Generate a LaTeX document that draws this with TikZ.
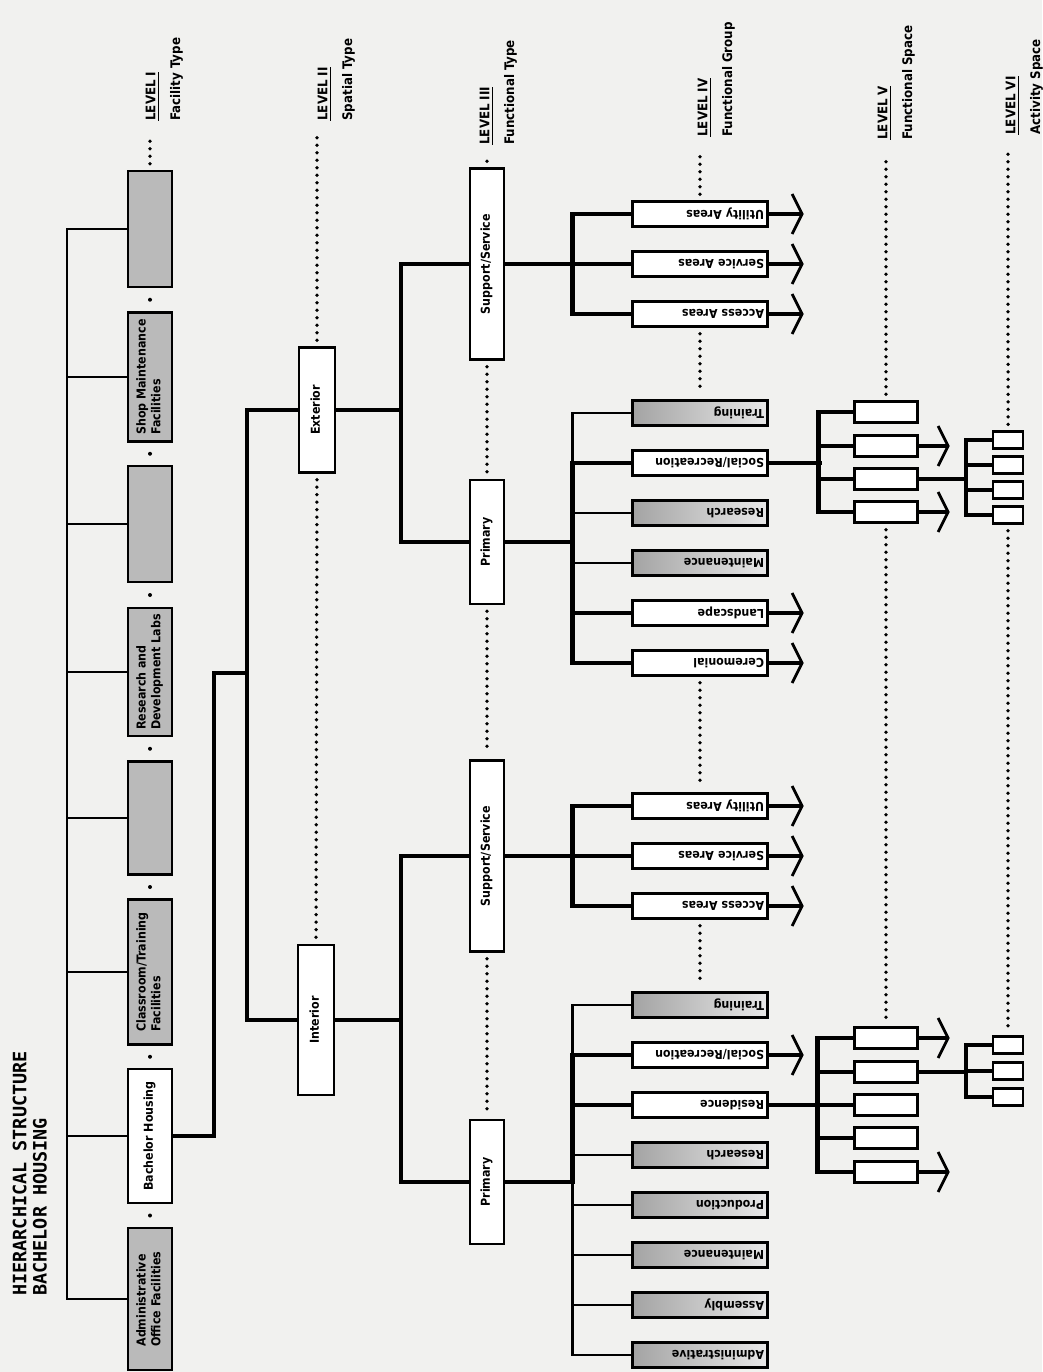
\documentclass[tikz,border=0pt]{standalone}
\usepackage{fontspec}
\usepackage{tikz}
\usetikzlibrary{arrows.meta,calc}
\newfontfamily\labfont{DejaVu Sans Condensed}
\newfontfamily\ttlfont{DejaVu Sans Mono}
\definecolor{paperGray}{RGB}{241,241,239}
\definecolor{stipple} {RGB}{186,186,186}

\newcommand{\lvlab}[2]{\rotatebox{90}{\begin{tabular}{@{}l@{}}\underline{LEVEL #1}\\[5pt]#2\end{tabular}}}
\newcommand{\up}[1]{\rotatebox{90}{\begin{tabular}{@{}l@{}}#1\end{tabular}}}
\newcommand{\flip}[1]{\rotatebox{180}{#1}}

\tikzset{
  thinln/.style={line width=1.3pt},
  thickln/.style={line width=2.6pt},
  dotln/.style={line width=0.75mm, line cap=round, dash pattern=on 0pt off 1.5mm,
                shorten <=1.2mm, shorten >=1.2mm},
  dotlab/.style={dotln, shorten >=3mm},
  goon/.style={thickln, -{Straight Barb[length=2mm,width=8mm,line width=1.6pt]}},
  blk/.style={draw, line width=1.3pt, inner sep=1pt, fill=white,
              font=\labfont\bfseries\fontsize{7}{8.4}\selectfont},
  stip/.style={fill=stipple},
  gstip/.style={left color=black!36, right color=black!9},
  facbox/.style={blk, minimum width=8.8mm},
  spabox/.style={blk, minimum width=7.2mm},
  funbox/.style={blk, minimum width=6.8mm},
  grpbox/.style={blk, minimum height=5mm, text width=25.6mm, inner xsep=0.7mm,
                 inner ysep=0.4mm, align=right},
  fspbox/.style={blk, minimum width=12.6mm, minimum height=4.2mm, inner sep=0pt},
  actbox/.style={blk, minimum width=6mm, minimum height=3.4mm, inner sep=0pt},
  lvl/.style={anchor=south west, inner sep=0pt,
              font=\labfont\bfseries\fontsize{7.5}{9}\selectfont}
}

\begin{document}
\begin{tikzpicture}[x=0.2mm, y=-0.2mm]
  \fill[paperGray] (0,0) rectangle (1042,1372);
  \useasboundingbox (0,0) rectangle (1042,1372);

  % ── TITLE ─────────────────────────────────────────────
  \node[anchor=south west, inner sep=0pt,
        font=\ttlfont\bfseries\fontsize{10.5}{11.5}\selectfont]
        (ttl) at (12,1296) {\up{HIERARCHICAL STRUCTURE\\BACHELOR HOUSING}};

  % ── LEVEL HEADINGS ────────────────────────────────────
  \node[lvl] (lv1) at (144,121) {\lvlab{I}{Facility Type}};
  \node[lvl] (lv2) at (316,121) {\lvlab{II}{Spatial Type}};
  \node[lvl] (lv3) at (478,145) {\lvlab{III}{Functional Type}};
  \node[lvl] (lv4) at (696,137) {\lvlab{IV}{Functional Group}};
  \node[lvl] (lv5) at (876,140) {\lvlab{V}{Functional Space}};
  \node[lvl] (lv6) at (1004,135) {\lvlab{VI}{Activity Space}};

  % ── LEVEL I : facility type ───────────────────────────
  \node[facbox,stip,minimum height=23.2mm] (fblank1) at (150,229) {};
  \node[facbox,stip,minimum height=25.8mm] (fshop)   at (150,377)
        {\up{Shop Maintenance\\Facilities}};
  \node[facbox,stip,minimum height=23.2mm] (fblank2) at (150,524) {};
  \node[facbox,stip,minimum height=25.6mm] (frnd)    at (150,672)
        {\up{Research and\\Development Labs}};
  \node[facbox,stip,minimum height=22.6mm] (fblank3) at (150,818) {};
  \node[facbox,stip,minimum height=29mm]   (fclass)  at (150,972)
        {\up{Classroom/Training\\Facilities}};
  \node[facbox,minimum height=26.8mm]      (fbach)   at (150,1136)
        {\up{Bachelor Housing}};
  \node[facbox,stip,minimum height=28.4mm] (fadmin)  at (150,1299)
        {\up{Administrative\\Office Facilities}};

  \draw[thinln] (fblank1.west) -- ++(-60,0) |- (fadmin.west);
  \foreach \n in {fshop,fblank2,frnd,fblank3,fclass,fbach}{
    \draw[thinln] (\n.west) -- ++(-60,0);
  }
  \foreach \a/\b in {fblank1/fshop,fshop/fblank2,fblank2/frnd,frnd/fblank3,
                     fblank3/fclass,fclass/fbach,fbach/fadmin}{
    \fill ($(\a.south)!0.5!(\b.north)$) circle (0.4mm);
  }

  % ── LEVEL II : spatial type ───────────────────────────
  \node[spabox,minimum height=25mm] (sext) at (317,410) {\up{Exterior}};
  \node[spabox,minimum height=30mm] (sint) at (316,1020) {\up{Interior}};

  \draw[thickln] (fbach.east) -- ++(41,0) -- ++(0,-463) -- ++(35,0);
  \draw[thickln] (sext.west) -- ++(-51,0) |- (sint.west);

  % ── LEVEL III : functional type ───────────────────────
  \node[funbox,minimum height=38.2mm] (fxss)  at (487,264)  {\up{Support/Service}};
  \node[funbox,minimum height=24.8mm] (fxpri) at (487,542)  {\up{Primary}};
  \node[funbox,minimum height=38.2mm] (fiss)  at (487,856)  {\up{Support/Service}};
  \node[funbox,minimum height=24.8mm] (fipri) at (487,1182) {\up{Primary}};

  \draw[thickln] (sext.east) -- ++(67,0);
  \draw[thickln] (fxss.west) -- ++(-68,0) |- (fxpri.west);
  \draw[thickln] (sint.east) -- ++(68,0);
  \draw[thickln] (fiss.west) -- ++(-68,0) |- (fipri.west);

  % ── LEVEL IV : functional group ───────────────────────
  % exterior, support/service
  \node[grpbox] (gxutil) at (700,214) {\flip{Utility Areas}};
  \node[grpbox] (gxsvc)  at (700,264) {\flip{Service Areas}};
  \node[grpbox] (gxacc)  at (700,314) {\flip{Access Areas}};
  % exterior, primary
  \node[grpbox,gstip] (gxtrain) at (700,413) {\flip{Training}};
  \node[grpbox]       (gxsoc)   at (700,463) {\flip{Social/Recreation}};
  \node[grpbox,gstip] (gxrsch)  at (700,513) {\flip{Research}};
  \node[grpbox,gstip] (gxmnt)   at (700,563) {\flip{Maintenance}};
  \node[grpbox]       (gxland)  at (700,613) {\flip{Landscape}};
  \node[grpbox]       (gxcer)   at (700,663) {\flip{Ceremonial}};
  % interior, support/service
  \node[grpbox] (giutil) at (700,806) {\flip{Utility Areas}};
  \node[grpbox] (gisvc)  at (700,856) {\flip{Service Areas}};
  \node[grpbox] (giacc)  at (700,906) {\flip{Access Areas}};
  % interior, primary
  \node[grpbox,gstip] (gitrain) at (700,1005) {\flip{Training}};
  \node[grpbox]       (gisoc)   at (700,1055) {\flip{Social/Recreation}};
  \node[grpbox]       (gires)   at (700,1105) {\flip{Residence}};
  \node[grpbox,gstip] (girsch)  at (700,1155) {\flip{Research}};
  \node[grpbox,gstip] (giprod)  at (700,1205) {\flip{Production}};
  \node[grpbox,gstip] (gimnt)   at (700,1255) {\flip{Maintenance}};
  \node[grpbox,gstip] (giasm)   at (700,1305) {\flip{Assembly}};
  \node[grpbox,gstip] (giadm)   at (700,1355) {\flip{Administrative}};

  \draw[thickln] (fxss.east) -- (gxsvc.west);
  \draw[thickln] (gxutil.west) -- ++(-59,0) |- (gxacc.west);

  \draw[thinln]  (gxtrain.west) -- ++(-59,0) |- (gxsoc.west);
  \draw[thickln] (gxcer.west) -- ++(-59,0) |- (gxsoc.west);
  \draw[thickln] (fxpri.east) -- ++(69,0);
  \draw[thickln] (gxland.west) -- ++(-59,0);
  \foreach \n in {gxrsch,gxmnt}{
    \draw[thinln] (\n.west) -- ++(-59,0);
  }

  \draw[thickln] (fiss.east) -- (gisvc.west);
  \draw[thickln] (giutil.west) -- ++(-59,0) |- (giacc.west);

  \draw[thinln]  (gitrain.west) -- ++(-59,0) |- (giadm.west);
  \draw[thickln] (gisoc.west) -- ++(-59,0) |- (fipri.east);
  \draw[thickln] (gires.west) -- ++(-59,0);
  \foreach \n in {girsch,giprod,gimnt,giasm}{
    \draw[thinln] (\n.west) -- ++(-59,0);
  }

  \foreach \n in {gxutil,gxsvc,gxacc,gxland,gxcer,giutil,gisvc,giacc,gisoc}{
    \draw[goon] (\n.east) -- ++(35,0);
  }

  % ── LEVEL V : functional space ────────────────────────
  \node[fspbox] (hx1) at (886,412) {};
  \node[fspbox] (hx2) at (886,446) {};
  \node[fspbox] (hx3) at (886,479) {};
  \node[fspbox] (hx4) at (886,512) {};

  \node[fspbox] (hi1) at (886,1038) {};
  \node[fspbox] (hi2) at (886,1072) {};
  \node[fspbox] (hi3) at (886,1105) {};
  \node[fspbox] (hi4) at (886,1138) {};
  \node[fspbox] (hi5) at (886,1172) {};

  \draw[thickln] (gxsoc.east) -- ++(53,0);
  \draw[thickln] (hx1.west) -- ++(-35,0) |- (hx4.west);
  \foreach \n in {hx2,hx3}{ \draw[thickln] (\n.west) -- ++(-35,0); }

  \draw[thickln] (gires.east) -- ++(52,0);
  \draw[thickln] (hi1.west) -- ++(-36,0) |- (hi5.west);
  \foreach \n in {hi2,hi3,hi4}{ \draw[thickln] (\n.west) -- ++(-36,0); }

  \foreach \n in {hx2,hx4,hi1,hi5}{
    \draw[goon] (\n.east) -- ++(31,0);
  }

  % ── LEVEL VI : activity space ─────────────────────────
  \node[actbox] (kx1) at (1008,440) {};
  \node[actbox] (kx2) at (1008,465) {};
  \node[actbox] (kx3) at (1008,490) {};
  \node[actbox] (kx4) at (1008,515) {};

  \node[actbox] (ki1) at (1008,1045) {};
  \node[actbox] (ki2) at (1008,1071) {};
  \node[actbox] (ki3) at (1008,1097) {};

  \draw[thickln] (kx1.west) -- ++(-26,0) coordinate (kxb) |- (kx4.west);
  \foreach \n in {kx2,kx3}{ \draw[thickln] (\n.west) -- ++(-26,0); }
  \draw[thickln] (hx3.east) -- (hx3.east -| kxb);

  \draw[thickln] (ki1.west) -- ++(-26,0) coordinate (kib) |- (ki3.west);
  \draw[thickln] (ki2.west) -- ++(-26,0);
  \draw[thickln] (hi2.east) -- (hi2.east -| kib);

  % ── DOTTED LEVEL LINES ────────────────────────────────
  \draw[dotlab] (fblank1.north) -- (fblank1.north |- lv1.south);
  \draw[dotlab] (sext.north) -- (sext.north |- lv2.south);
  \draw[dotln]  (sext.south) -- (sint.north);
  \draw[dotlab] (fxss.north) -- (fxss.north |- lv3.south);
  \draw[dotln]  (fxss.south) -- (fxpri.north);
  \draw[dotln]  (fxpri.south) -- (fiss.north);
  \draw[dotln]  (fiss.south) -- (fipri.north);
  \draw[dotlab] (gxutil.north) -- (gxutil.north |- lv4.south);
  \draw[dotln]  (gxacc.south) -- (gxtrain.north);
  \draw[dotln]  (gxcer.south) -- (giutil.north);
  \draw[dotln]  (giacc.south) -- (gitrain.north);
  \draw[dotlab] (hx1.north) -- (hx1.north |- lv5.south);
  \draw[dotln]  (hx4.south) -- (hi1.north);
  \draw[dotlab] (kx1.north) -- (kx1.north |- lv6.south);
  \draw[dotln]  (kx4.south) -- (ki1.north);

\end{tikzpicture}
\end{document}
